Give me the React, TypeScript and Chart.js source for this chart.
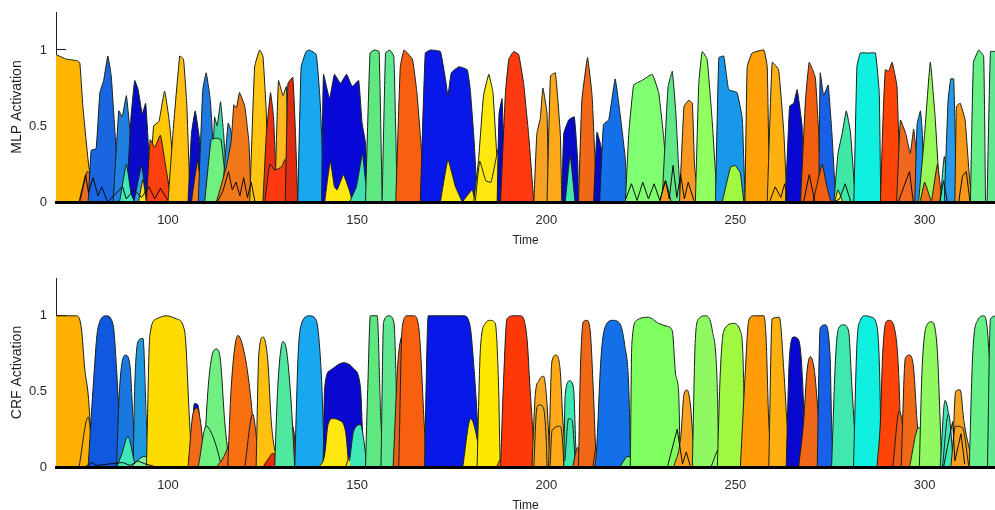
import React, { useEffect, useRef } from "react";
import { Chart, registerables } from "chart.js";

Chart.register(...registerables);

type Pt = [number, number];

const xTicks = [100, 150, 200, 250, 300];
const yTicks = [0, 0.5, 1];
const xRange = [70.4, 318.6];
const yRange = [0, 1.25];
const xLabel = "Time";
const mlpLabel = "MLP Activation";
const crfLabel = "CRF Activation";

// --- MLP humps (Time, activation) ---
const m01: Pt[] = [[70.4,.97],[73.1,.94],[76,.93],[76.7,.915],[77.5,.63],[79.1,.23],[81,.05],[82,0]];
const m02: Pt[] = [[76.7,0],[78.6,.2],[80.6,.165],[82.4,.03],[83.7,0]];
const m03: Pt[] = [[78.9,0],[79.7,.34],[81,.35],[82,.72],[83,.8],[84.1,.96],[85,.83],[86.3,.34],[87.2,.1],[88,0]];
const m04: Pt[] = [[85.5,0],[87,.6],[87.9,.56],[89,.7],[90,.45],[90.8,0]];
const m05: Pt[] = [[89,0],[90.2,.55],[91.2,.8],[92.1,.74],[93.2,.58],[94.1,.65],[94.9,.34],[95.6,0]];
const m06: Pt[] = [[87.2,0],[89,.25],[90.3,.05],[91.2,0]];
const m07: Pt[] = [[91,0],[93,.24],[94.3,.03],[95,0]];
const m08: Pt[] = [[92.2,0],[93.4,.15],[94.3,0]];
const m09: Pt[] = [[95,0],[96.2,.5],[97.6,.53],[99.1,.73],[100.3,.54],[101.3,.28],[102.6,.02],[103,0]];
const m10: Pt[] = [[94.3,0],[95.3,.41],[96.5,.36],[98,.44],[99.3,.25],[100.9,0]];
const m11: Pt[] = [[100,0],[101.3,.45],[103.1,.96],[104.1,.94],[105,.63],[105.7,.14],[106.6,0]];
const m12: Pt[] = [[105.3,0],[106.2,.45],[107.2,.6],[108.4,.4],[109.2,0]];
const m13: Pt[] = [[106.2,0],[107.8,.27],[109.2,.02],[109.6,0]];
const m14: Pt[] = [[108,0],[109.2,.74],[110.1,.85],[111.2,.67],[111.9,.38],[112.8,0]];
const m15: Pt[] = [[111.5,0],[112.3,.56],[113,.5],[113.9,.66],[114.7,.45],[115.4,.2],[116.3,0]];
const m16: Pt[] = [[109.7,0],[111.4,.41],[112.8,.42],[114,.41],[115,.2],[116,0]];
const m17: Pt[] = [[114.2,0],[115.9,.52],[116.7,.46],[117.6,0]];
const m18: Pt[] = [[112.8,0],[115.4,.23],[116.7,.4],[117.4,.64],[118.1,.62],[118.9,.72],[120.3,.63],[121.4,.39],[122,0]];
const m19: Pt[] = [[121.6,0],[122.9,.89],[124.2,1],[125.1,.96],[126,.58],[126.4,0]];
const m20: Pt[] = [[125.1,0],[126,.45],[127.1,.72],[127.9,.56],[128.8,0]];
const m21: Pt[] = [[128.2,0],[129.2,.8],[130.4,.7],[131.3,.76],[131.7,.28],[132.2,0]];
const m22: Pt[] = [[125.6,0],[126.9,.25],[128.2,.21],[130,.23],[130.9,.28],[132.2,.23],[134,0]];
const m23: Pt[] = [[131,0],[131.7,.78],[133,.82],[133.7,.45],[134.3,0]];
const m24: Pt[] = [[134.3,0],[135.2,.89],[136.5,.99],[137.4,1],[139.2,.97],[140.2,.67],[141.4,0]];
const m25: Pt[] = [[140.6,0],[141.1,.84],[142.7,.68],[144,.84],[145.6,.78],[147.2,.84],[148.7,.76],[150.4,.8],[151.3,.52],[152.2,.39],[153,0]];
const m26: Pt[] = [[141.4,0],[142.9,.27],[144,.1],[144.7,.08],[146.4,.18],[147.9,.08],[148.8,0]];
const m27: Pt[] = [[148,0],[149.8,.1],[151.4,.32],[152.2,.14],[153,0]];
const m28: Pt[] = [[152.2,0],[153.4,.98],[154.5,1],[155.8,.99],[156.6,.03],[156.8,0]];
const m29: Pt[] = [[156.6,0],[157.5,.98],[158.6,1],[159.7,.96],[160.6,0]];
const m30: Pt[] = [[160.2,0],[161.4,.89],[162.4,1],[164.6,.94],[165.8,.72],[167,.34],[168.2,0]];
const m31: Pt[] = [[166.7,0],[168,.98],[169.4,1],[172,.99],[173.4,.8],[174,.7],[174.9,.85],[176.9,.89],[179.1,.87],[179.9,.74],[180.9,.41],[181.8,0]];
const m32: Pt[] = [[172,0],[174,.28],[176,.1],[177.8,0]];
const m33: Pt[] = [[177.8,0],[180.4,.08],[181.2,0]];
const m34: Pt[] = [[180.8,0],[182.1,.28],[183.4,.7],[184.8,.84],[185.9,.72],[187,.27],[187.9,0]];
const m35: Pt[] = [[181.2,0],[182.4,.27],[184,.14],[185.4,.13],[187.3,.35],[188,0]];
const m36: Pt[] = [[187,0],[187.5,.58],[188.3,.68],[189.2,0]];
const m37: Pt[] = [[187.9,0],[189.2,.72],[190.1,.94],[191.4,.99],[192.7,.97],[194,.78],[195.3,.45],[196.7,0]];
const m38: Pt[] = [[196.7,0],[197.5,.45],[198.4,.55],[199.1,.75],[200.2,.58],[200.6,0]];
const m39: Pt[] = [[200.2,0],[201.1,.83],[202.4,.85],[203.7,.45],[204.1,0]];
const m40: Pt[] = [[204.1,0],[204.6,.45],[205.9,.54],[207.4,.56],[208.3,.27],[208.5,0]];
const m41: Pt[] = [[205,0],[206.3,.31],[207.6,0]];
const m42: Pt[] = [[208.5,0],[209.4,.67],[210.9,.95],[212.1,.7],[213,.2],[213.4,0]];
const m43: Pt[] = [[212.5,0],[213.4,.46],[214.5,.36],[215.2,0]];
const m44: Pt[] = [[214.1,0],[215.1,.51],[216.5,.54],[218.2,.81],[219.5,.58],[220.9,.28],[221.3,0]];
const m45: Pt[] = [[220.9,0],[221.8,.45],[223.1,.77],[225.3,.8],[228,.84],[229.7,.72],[231,.43],[232.4,.02],[232.6,0]];
const m46: Pt[] = [[230.6,0],[231.8,.6],[232.2,.76],[233.3,.86],[234.2,.6],[234.9,.27],[235.5,0]];
const m47: Pt[] = [[230,0],[231.5,.14],[233,0]];
const m48: Pt[] = [[235.2,0],[236.4,.63],[237.7,.67],[238.6,.65],[239.2,.23],[240.3,0]];
const m49: Pt[] = [[239.4,0],[240.3,.78],[241.2,.99],[242.5,.94],[243.8,.55],[245.2,0]];
const m50: Pt[] = [[244.7,0],[245.6,.95],[246.9,.96],[248.2,.74],[250.4,.72],[251.8,.55],[252.2,.27],[252.6,0]];
const m51: Pt[] = [[246.5,0],[248.7,.23],[250,.24],[251.3,.19],[252.2,0]];
const m52: Pt[] = [[252.5,0],[253.1,.89],[254.4,.98],[257.5,1],[258.4,.89],[259,0]];
const m53: Pt[] = [[258.4,0],[259.7,.92],[261.4,.87],[262.8,.45],[263.6,0]];
const m54: Pt[] = [[263.2,0],[264.3,.63],[265.4,.65],[266.3,.74],[267.6,.5],[268,0]];
const m55: Pt[] = [[267.2,0],[268.5,.67],[269.5,.92],[271.1,.82],[272,.45],[272.6,0]];
const m56: Pt[] = [[272,0],[272.4,.85],[273.3,.7],[274.5,.77],[275.5,.45],[276.3,.1],[276.7,0]];
const m57: Pt[] = [[270.5,0],[272.9,.25],[274,.12],[275,.02],[275.6,0]];
const m58: Pt[] = [[276,0],[277.1,.32],[278.2,.45],[279.3,.6],[280.4,.46],[281.7,0]];
const m59: Pt[] = [[276.2,0],[277.1,.08],[278.4,0]];
const m60: Pt[] = [[281.3,0],[282.1,.89],[283,.98],[285.2,.98],[287,.98],[288,.72],[288.4,0]];
const m61: Pt[] = [[288.3,0],[289,.55],[289.6,.87],[290.5,.86],[291.4,.92],[292.7,.76],[293.6,0]];
const m62: Pt[] = [[292.6,0],[293.6,.54],[295,.45],[296.2,.32],[297.1,.48],[298,.26],[298.4,0]];
const m63: Pt[] = [[297.4,0],[298,.51],[298.9,.6],[299.4,.45],[299.8,0]];
const m64: Pt[] = [[298.4,0],[300,.45],[301.5,.92],[302.8,.55],[304.1,0]];
const m65: Pt[] = [[298.8,0],[300,.13],[301.8,0]];
const m66: Pt[] = [[301.8,0],[303.4,.25],[304.6,0]];
const m67: Pt[] = [[304.1,0],[305.2,.3],[306.7,0]];
const m68: Pt[] = [[305.2,0],[306.2,.67],[306.9,.81],[307.7,.81],[308.4,.05],[308.6,0]];
const m69: Pt[] = [[308,0],[308.4,.63],[309.4,.65],[310.7,.54],[312,.12],[313.4,0]];
const m70: Pt[] = [[312.1,0],[312.9,.92],[314.3,1],[315.6,.96],[316.1,0]];
const m71: Pt[] = [[316.5,0],[317.4,.99],[318.7,.99]];

const mlpHumps = [m01,m02,m03,m04,m05,m06,m07,m08,m09,m10,m11,m12,m13,m14,m15,m16,m17,m18,m19,m20,m21,m22,m23,m24,m25,m26,m27,m28,m29,m30,m31,m32,m33,m34,m35,m36,m37,m38,m39,m40,m41,m42,m43,m44,m45,m46,m47,m48,m49,m50,m51,m52,m53,m54,m55,m56,m57,m58,m59,m60,m61,m62,m63,m64,m65,m66,m67,m68,m69,m70,m71];
const mlpColors = ["#ffb400","#ee6a1c","#1a66e0","#2080e0","#0a0ac8","#40e8b8","#30a0e8","#ffe010","#ffc800","#ff4010","#ffc010","#0a0ac8","#f08020","#1e78e0","#40d8a0","#70f080","#3090e0","#f07818","#ffc414","#e83010","#ffb820","#ff3a10","#e02c10","#18a8f0","#0808d8","#ffe810","#40e0b0","#60e880","#60e890","#f86010","#0818e8","#ffe810","#ffe810","#ffe810","#ffe810","#0808c8","#ff3a10","#f8a020","#ffa818","#0808c8","#40e8b0","#f06818","#0808c8","#1470e8","#80ff70","#60e888","#f89820","#f89820","#90ff60","#1898e8","#a0f840","#ffa008","#ffb010","#0808d0","#f06010","#1860e8","#f06010","#40e8a8","#ffe040","#10f0e0","#ff4408","#f06820","#2090e8","#98f858","#f07018","#f07018","#40e8b8","#2898e8","#f89818","#68f088","#60e890"];

const mlpTraceA: Pt[] = [[76.5,0],[78.2,.18],[79,.06],[80.2,.16],[81.5,.04],[82.5,.1],[84,0],[88,.1],[89,.02],[91,.08],[93,.03],[95,.1],[96.5,.02],[98,.09],[100,.01]];
const mlpTraceB: Pt[] = [[113,0],[114.5,.07],[116,.2],[117,.08],[118,.13],[119,.04],[120,.16],[121,.03],[122,.13],[123,0]];
const mlpTraceC: Pt[] = [[221,.02],[222.5,.12],[224,.01],[225.5,.13],[227,.02],[228.5,.12],[230,.01],[231.5,.14],[232.5,.02],[233.5,.24],[234.5,.03],[235.5,.18],[236.5,.02],[237.5,.13],[239,.01]];
const mlpTraceD: Pt[] = [[259,0],[260.5,.1],[262,.03],[263,.12],[264,0],[268,0],[269.5,.18],[271,0],[276,0],[277.5,.02],[279,.12],[280.5,0],[293,0],[294.5,.1],[296,.2],[297,0],[304,0],[305,.14],[306,0],[309,0],[310,.17],[311,.2],[312,0]];
const mlpTraces = [mlpTraceA, mlpTraceB, mlpTraceC, mlpTraceD];

// --- CRF humps (Time, activation) ---
const c01: Pt[] = [[70.4,1],[75.8,1],[77.1,.92],[78,.65],[78.9,.48],[79.8,.17],[81,.01],[81.5,0]];
const c02: Pt[] = [[76.5,0],[78.9,.33],[80,.12],[81,0]];
const c03: Pt[] = [[78.9,0],[80.2,.52],[81.5,.92],[83.7,1],[85.5,.94],[86.4,.65],[87.7,0]];
const c04: Pt[] = [[86.4,0],[87.2,.52],[88.8,.74],[89.9,.68],[90.8,.3],[91.5,0]];
const c05: Pt[] = [[90.8,0],[91.2,.52],[92.3,.84],[93.4,.85],[94.3,.3],[95,0]];
const c06: Pt[] = [[86.4,0],[87.7,.08],[89.4,.2],[91.2,.03],[91.8,0]];
const c07: Pt[] = [[90.2,0],[93.8,.07],[96.9,0]];
const c08: Pt[] = [[94.3,0],[95.2,.87],[97,.98],[99.6,1],[102.2,.98],[104.4,.9],[105.7,.3],[106.4,0]];
const c09: Pt[] = [[106,0],[107,.42],[107.9,.41],[109.2,0]];
const c10: Pt[] = [[105.3,0],[106.6,.35],[107.7,.39],[108.8,.26],[109.7,0]];
const c11: Pt[] = [[109.4,0],[110.6,.52],[111.9,.76],[112.8,.78],[113.8,.72],[115,.3],[116.3,0]];
const c12: Pt[] = [[108,0],[110.1,.27],[111.9,.2],[113.6,.06],[114.1,0]];
const c13: Pt[] = [[112.8,0],[114.8,.07],[116.3,.17],[117.5,.3],[118,0]];
const c14: Pt[] = [[115.8,0],[116.7,.52],[118.5,.87],[120.3,.74],[121.6,.52],[122.9,.19],[123.8,0]];
const c15: Pt[] = [[120.3,0],[122.4,.35],[123.7,.13],[124.5,0]];
const c16: Pt[] = [[123.3,0],[124,.74],[125.1,.86],[126.4,.7],[127.3,.3],[128.6,.08],[130,.04],[130.5,0]];
const c17: Pt[] = [[125.1,0],[126.4,.05],[127.7,.09],[129,.06],[130.8,.05],[132.6,.28],[133.4,.21],[134,0]];
const c18: Pt[] = [[128.2,0],[129,.52],[130.4,.83],[131.4,.76],[132.6,.41],[133.5,0]];
const c19: Pt[] = [[133.5,0],[134.4,.74],[135.2,.94],[137.4,1],[139.2,.97],[140.5,.63],[141.4,.08],[142.3,0]];
const c20: Pt[] = [[141,0],[141.4,.52],[142.9,.64],[146.5,.69],[149.1,.65],[150.9,.52],[151.3,.3],[151.7,0]];
const c21: Pt[] = [[140,0],[141.4,.08],[142.3,.28],[143.6,.32],[145.2,.31],[146.9,.24],[147.8,0]];
const c22: Pt[] = [[146.9,0],[148.2,.07],[149.5,0]];
const c23: Pt[] = [[148,.04],[149.1,.24],[150.9,.28],[151.8,.17],[152.6,0]];
const c24: Pt[] = [[152.2,0],[152.8,.52],[153.5,1],[155.3,1],[156.2,.35],[157,0]];
const c25: Pt[] = [[156.3,0],[157,.96],[158.4,1],[159.7,.96],[160.6,.3],[161,0]];
const c26: Pt[] = [[159.5,0],[161,.76],[163,.9],[166,.7],[167.5,.2],[168,0]];
const c27: Pt[] = [[161,0],[161.9,.92],[163.2,1],[165,1],[166.3,.92],[167.7,.3],[168.3,0]];
const c28: Pt[] = [[167.8,0],[168.8,1],[178.2,1],[179.8,.94],[180.9,.65],[181.8,.3],[182.4,0]];
const c29: Pt[] = [[177.9,0],[180,.32],[183.2,0]];
const c30: Pt[] = [[181.7,0],[182.6,.79],[183.9,.95],[185.2,.97],[186.5,.95],[187.4,.52],[187.8,.04],[188,0]];
const c31: Pt[] = [[186.8,0],[188,.05],[189.2,0]];
const c32: Pt[] = [[187.9,0],[188.8,.63],[189.6,.98],[191.4,1],[193.1,1],[194.9,.85],[195.7,.52],[197,.08],[197.9,0]];
const c33: Pt[] = [[196.2,0],[197.1,.48],[198,.57],[199.3,.6],[200.2,.41],[201,0]];
const c34: Pt[] = [[196.7,0],[197.4,.37],[198,.41],[199.1,.4],[200,.17],[200.2,0]];
const c35: Pt[] = [[200.6,0],[201.5,.7],[202.6,.74],[203.7,.63],[204.4,.3],[205.5,0]];
const c36: Pt[] = [[201,0],[201.5,.24],[203.7,.27],[204.4,.13],[204.6,0]];
const c37: Pt[] = [[204.6,0],[205,.48],[206.2,.57],[207.2,.52],[207.9,.08],[208.5,0]];
const c38: Pt[] = [[204.9,.04],[205.9,.32],[206.8,.31],[207.6,.06],[207.8,0]];
const c39: Pt[] = [[207,0],[208.3,.13],[209.6,0]];
const c40: Pt[] = [[208.5,0],[209,.63],[209.8,.96],[210.7,.97],[211.6,.9],[212.4,.52],[213.2,0]];
const c41: Pt[] = [[212.3,0],[213.2,.13],[214.5,0]];
const c42: Pt[] = [[212.8,0],[213.2,.08],[214.5,.74],[215.8,.94],[217.6,.97],[219.4,.95],[220.7,.81],[221.8,.52],[222.3,0]];
const c43: Pt[] = [[219.4,0],[221.6,.07],[223.4,.04],[225.1,0]];
const c44: Pt[] = [[222.2,0],[222.6,.81],[223.9,.97],[227,.99],[229.7,.95],[232,.93],[233.3,.9],[234.2,.61],[235,.48],[235.4,0]];
const c45: Pt[] = [[233.7,0],[235.5,.19],[236.4,.48],[237.2,.51],[238.1,.41],[239,.12],[240.3,0]];
const c46: Pt[] = [[238.6,0],[239.4,.85],[240.3,.98],[242,1],[243.9,.9],[245.2,.52],[245.6,0]];
const c47: Pt[] = [[243.5,0],[246,.13],[249,.06],[251.3,.02],[252.6,0]];
const c48: Pt[] = [[245.2,0],[246,.63],[246.9,.9],[249.6,.95],[251.3,.9],[252.2,.52],[252.4,0]];
const c49: Pt[] = [[251.3,0],[252.6,.63],[253.5,.97],[254.8,1],[257.5,1],[258.1,.85],[258.8,.3],[260.1,0]];
const c50: Pt[] = [[258.8,0],[259.7,.98],[261.6,.99],[262.8,.63],[263.6,.3],[264.5,0]];
const c51: Pt[] = [[263.4,0],[264.3,.74],[265.4,.86],[266.7,.84],[268,.41],[268.4,0]];
const c52: Pt[] = [[266.7,0],[268,.3],[268.9,.63],[269.8,.73],[270.9,.63],[272.4,.2],[274.2,0]];
const c53: Pt[] = [[271.6,0],[272.4,.92],[273.7,.94],[275,.74],[275.4,.3],[275.8,0]];
const c54: Pt[] = [[275.4,0],[276.5,.74],[277.3,.92],[278.6,.94],[279.9,.9],[280.8,.52],[282.1,0]];
const c55: Pt[] = [[281.2,0],[282.1,.81],[283,.97],[284.3,1],[286,.99],[287.4,.93],[288.2,.52],[288.5,0]];
const c56: Pt[] = [[287.4,0],[288.3,.3],[288.9,.74],[289.8,.96],[290.6,.97],[292,.92],[293.3,.52],[293.8,0]];
const c57: Pt[] = [[291.6,0],[293.3,.37],[295.5,0]];
const c58: Pt[] = [[293.8,0],[294.9,.72],[296,.74],[297.1,.65],[298,.3],[299.3,0]];
const c59: Pt[] = [[296,0],[298.4,.26],[302,.04],[303.8,0]];
const c60: Pt[] = [[298.6,0],[299.3,.63],[300.6,.94],[301.8,.96],[303.3,.79],[304.1,.3],[304.5,0]];
const c61: Pt[] = [[304.1,0],[305.4,.44],[306.3,.35],[307.3,.08],[307.8,0]];
const c62: Pt[] = [[304.7,0],[306.3,.35],[307.7,0]];
const c63: Pt[] = [[307.3,0],[308.2,.5],[309.4,.51],[310.4,.3],[313,0]];
const c64: Pt[] = [[306.9,0],[308.2,.27],[310,.26],[311.7,0]];
const c65: Pt[] = [[311.8,0],[312.7,.74],[314,.97],[315.7,1],[316.6,.9],[317.9,.3],[318.3,0]];
const c66: Pt[] = [[316.6,0],[317.4,.98],[319.2,1]];

const crfHumps = [c01,c02,c03,c04,c05,c06,c07,c08,c09,c10,c11,c12,c13,c14,c15,c16,c17,c18,c19,c20,c21,c22,c23,c24,c25,c26,c27,c28,c29,c30,c31,c32,c33,c34,c35,c36,c37,c38,c39,c40,c41,c42,c43,c44,c45,c46,c47,c48,c49,c50,c51,c52,c53,c54,c55,c56,c57,c58,c59,c60,c61,c62,c63,c64,c65,c66];
const crfColors = ["#ffb000","#ffb000","#1058e0","#1878e0","#2098e0","#40e8b8","#80f0a0","#ffdc00","#0808c8","#f06a18","#70f080","#70f080","#f06a18","#f87010","#f06a18","#ffc010","#e82a10","#50e8a0","#18a8f0","#0808d0","#ffe810","#ffe810","#40e8b8","#60e880","#60e890","#e86018","#f86010","#0818e8","#ffe810","#ffe800","#f06018","#ff3808","#f8a820","#f8a820","#ffa818","#ffa818","#40e8b0","#40e8b0","#f06818","#f06818","#f06818","#1470e8","#70f070","#80ff60","#f8a020","#90f860","#90f860","#a0f840","#ff9c08","#ffb010","#0808d0","#f06818","#1860e8","#40e8b0","#10f0e0","#ff4408","#f05a18","#f06818","#90f860","#90f860","#40e8b8","#40e8b8","#f8a020","#f8a020","#68f088","#60e890"];

const crfTraceA: Pt[] = [[78,0],[80,.03],[81,.01],[88,.03],[90,.01],[92,.04],[94,.02],[97,0]];
const crfTraceB: Pt[] = [[232,0],[234.6,.25],[236,.02],[237,.1],[238,.01]];
const crfTraceC: Pt[] = [[305,0],[306,.13],[307.4,.3],[308,.04],[309.6,.22],[310.6,.02]];
const crfTraces = [crfTraceA, crfTraceB, crfTraceC];

function ActivationChart({ humps, colors, traces, yTitle, top, height, smooth }: {
  humps: Pt[][]; colors: string[]; traces: Pt[][]; yTitle: string; top: number; height: number; smooth: boolean;
}) {
  const ref = useRef<HTMLCanvasElement | null>(null);
  useEffect(() => {
    const filled = humps.map((h, i) => ({
      data: h, borderColor: "#16201a", borderWidth: 1, backgroundColor: colors[i],
      fill: "origin", pointRadius: 0,
      ...(smooth ? { cubicInterpolationMode: "monotone" } : { tension: 0.1 }),
    }));
    const lines = traces.map((h) => ({
      data: h, borderColor: "#0c0c0c", borderWidth: 1, backgroundColor: "transparent",
      fill: false, pointRadius: 0, tension: 0,
    }));
    const chart = new Chart(ref.current as HTMLCanvasElement, {
      type: "line",
      data: { datasets: [...lines, ...filled.slice().reverse()] as any },
      options: {
        animation: false, responsive: false, normalized: false,
        layout: { padding: { top: 12, left: 0, right: 0, bottom: 0 } },
        plugins: { legend: { display: false }, tooltip: { enabled: false } },
        scales: {
          x: {
            type: "linear", min: xRange[0], max: xRange[1],
            afterBuildTicks: (s: any) => { s.ticks = xTicks.map((value) => ({ value })); },
            afterFit: (s: any) => { s.height = 46; s.paddingLeft = 0; s.paddingRight = 0; },
            grid: { drawOnChartArea: false, tickLength: -8, color: "#000" },
            border: { color: "#000", width: 3, z: 1 },
            ticks: { autoSkip: false, maxRotation: 0, padding: 19, color: "#2a2a2a",
              font: { family: "Liberation Sans", size: 13 }, callback: (v: any) => String(v) },
            title: { display: true, text: xLabel, color: "#222", padding: { top: 0, bottom: 0 },
              font: { family: "Liberation Sans", size: 12 } },
          },
          y: {
            min: yRange[0], max: yRange[1],
            afterBuildTicks: (s: any) => { s.ticks = yTicks.map((value) => ({ value })); },
            afterFit: (s: any) => { s.width = 56; s.paddingTop = 0; s.paddingBottom = 0; },
            grid: { drawOnChartArea: false, tickLength: -10, color: "#222" },
            border: { color: "#222", width: 1 },
            ticks: { padding: 19, color: "#2a2a2a",
              font: { family: "Liberation Sans", size: 13 }, callback: (v: any) => String(v) },
            title: { display: true, text: yTitle, color: "#222", padding: { top: 9, bottom: 0 },
              font: { family: "Liberation Sans", size: 14 } },
          },
        },
      } as any,
    });
    return () => chart.destroy();
  }, []);
  return (
    <canvas ref={ref} width={995} height={height}
      style={{ position: "absolute", left: 0, top, width: 995, height, display: "block" }} />
  );
}

export default function App() {
  return (
    <div style={{ position: "fixed", left: 0, top: 0, width: 995, height: 510, background: "#fff", overflow: "hidden" }}>
      <ActivationChart humps={mlpHumps} colors={mlpColors} traces={mlpTraces} yTitle={mlpLabel} top={0} height={248} smooth={false} />
      <ActivationChart humps={crfHumps} colors={crfColors} traces={crfTraces} yTitle={crfLabel} top={266} height={247} smooth={true} />
    </div>
  );
}
